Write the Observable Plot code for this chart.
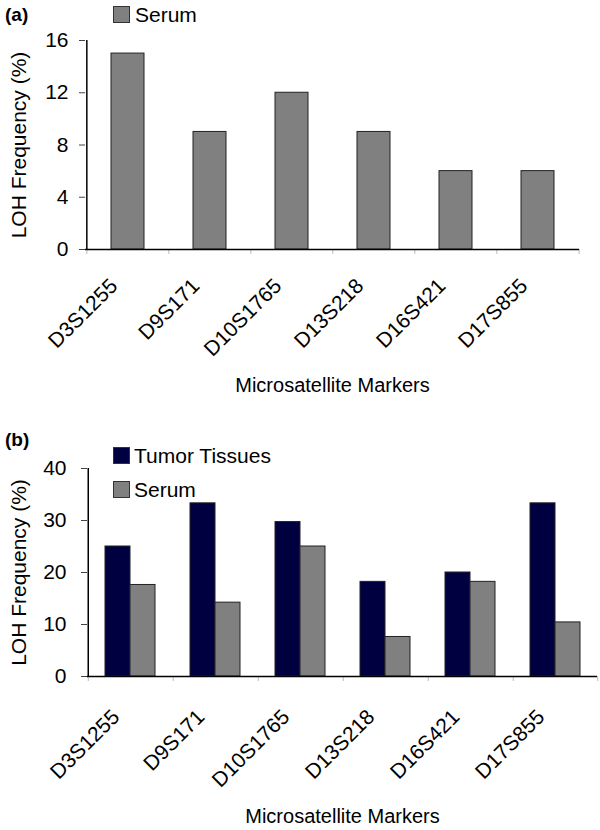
<!DOCTYPE html>
<html><head><meta charset="utf-8">
<script src="https://cdn.jsdelivr.net/npm/d3@7"></script>
<script src="https://cdn.jsdelivr.net/npm/@observablehq/plot@0.6"></script>
<style>
body{margin:0;background:#fff;font-family:"Liberation Sans",Arial,sans-serif;}
#wrap{position:relative;width:600px;height:830px;overflow:hidden;}
.panel{position:absolute;left:0;width:600px;}
.lbl{position:absolute;font-size:21px;color:#000;white-space:nowrap;line-height:1;}
.tag{position:absolute;font-size:19px;font-weight:bold;line-height:1;}
.sw{position:absolute;width:15px;height:15px;border:1px solid #333;}
</style>
</head><body>
<div id="wrap">
  <div class="panel" id="pa" style="top:0"></div>
  <div class="panel" id="pb" style="top:415px"></div>
  <div class="tag" style="left:5px;top:5px">(a)</div>
  <div class="sw" style="left:113px;top:6px;background:#808080"></div>
  <div class="lbl" style="left:135px;top:4px">Serum</div>
  <div class="tag" style="left:5px;top:430px">(b)</div>
  <div class="sw" style="left:113px;top:447px;background:#000040"></div>
  <div class="lbl" style="left:134px;top:445px">Tumor Tissues</div>
  <div class="sw" style="left:113px;top:481px;background:#808080"></div>
  <div class="lbl" style="left:134px;top:479px">Serum</div>
</div>
<script>
const markers = ["D3S1255","D9S171","D10S1765","D13S218","D16S421","D17S855"];
const serumA = [15, 9, 12, 9, 6, 6];
const tumorB = [25, 33.3, 29.7, 18.2, 20, 33.3];
const serumB = [17.6, 14.2, 25, 7.6, 18.2, 10.4];
const seriesB = ["Tumor Tissues", "Serum"];
const yTicksA = [0, 4, 8, 12, 16];
const yTicksB = [0, 10, 20, 30, 40];
const colors = {"Tumor Tissues": "#000040", "Serum": "#808080"};

const font = '"Liberation Sans", Arial, sans-serif';
const xTitle = "Microsatellite Markers";
const yTitle = "LOH Frequency (%)";

// Panel (a)
const tableA = markers.map((m, i) => ({marker: m, value: serumA[i]}));
const mlA = 85, mrA = 21;
const stepA = (600 - mlA - mrA) / markers.length;
const plotA = Plot.plot({
  width: 600, height: 415,
  marginLeft: mlA, marginRight: mrA, marginTop: 40, marginBottom: 166,
  style: {fontFamily: font, fontSize: "20px", background: "transparent", color: "#000"},
  x: {domain: markers, paddingInner: 0.6, paddingOuter: 0.3},
  y: {domain: [0, 16]},
  marks: [
    Plot.ruleX(markers, {x: d => d, dx: -stepA / 2, y1: 0, y2: 0, insetBottom: -5, stroke: "#bbb"}),
    Plot.ruleX([markers[markers.length - 1]], {x: d => d, dx: stepA / 2, y1: 0, y2: 0, insetBottom: -5, stroke: "#bbb"}),
    Plot.barY(tableA, {x: "marker", y: "value", fill: colors.Serum, stroke: "#222", strokeWidth: 1}),
    Plot.ruleX([markers[0]], {x: d => d, dx: -stepA / 2, y1: 0, y2: 16, stroke: "#000", strokeWidth: 1.5}),
    Plot.ruleY([0], {stroke: "#000", strokeWidth: 1.5}),
    Plot.axisX({tickRotate: -45, tickSize: 0, tickPadding: 18, dx: -14, dy: 15, fontSize: 21, label: null}),
    Plot.axisX({ticks: [], tickSize: 0, label: xTitle, labelAnchor: "center", labelOffset: 142, labelArrow: false, fontSize: 20}),
    Plot.axisY({ticks: yTicksA, tickSize: 6, tickPadding: 11, fontSize: 21, stroke: "#444", label: yTitle, labelAnchor: "center", labelOffset: 74, labelArrow: false})
  ]
});
document.getElementById("pa").appendChild(plotA);

// Panel (b)
const tableB = markers.flatMap((m, i) => [
  {marker: m, series: "Tumor Tissues", value: tumorB[i]},
  {marker: m, series: "Serum", value: serumB[i]}
]);
const mlB = 87, mrB = 3;
const facetW = (600 - mlB - mrB) / markers.length;
const outerB = 2 / 3;
const stepB = facetW / (2 + 2 * outerB);
const leftOff = -(stepB * outerB + stepB / 2);
const plotB = Plot.plot({
  width: 600, height: 415,
  marginLeft: mlB, marginRight: mrB, marginTop: 53, marginBottom: 154,
  style: {fontFamily: font, fontSize: "20px", background: "transparent", color: "#000"},
  fx: {domain: markers, padding: 0},
  x: {domain: seriesB, paddingInner: 0, paddingOuter: outerB, axis: null},
  y: {domain: [0, 40]},
  color: {domain: seriesB, range: seriesB.map(s => colors[s])},
  marks: [
    Plot.ruleX(markers, {fx: d => d, x: () => seriesB[0], dx: leftOff, y1: 0, y2: 0, insetBottom: -5, stroke: "#bbb"}),
    Plot.ruleX([markers[markers.length - 1]], {fx: d => d, x: () => seriesB[1], dx: -leftOff, y1: 0, y2: 0, insetBottom: -5, stroke: "#bbb"}),
    Plot.barY(tableB, {fx: "marker", x: "series", y: "value", fill: "series", stroke: "#222", strokeWidth: 1}),
    Plot.ruleX([markers[0]], {fx: d => d, x: () => seriesB[0], dx: leftOff, y1: 0, y2: 40, stroke: "#000", strokeWidth: 1.5}),
    Plot.ruleY([0], {stroke: "#000", strokeWidth: 1.5}),
    Plot.axisFx({anchor: "bottom", tickRotate: -45, tickSize: 0, tickPadding: 18, dx: -14, dy: 19, fontSize: 21, label: null}),
    Plot.axisFx({anchor: "bottom", ticks: [], tickSize: 0, label: xTitle, labelAnchor: "center", labelOffset: 146, labelArrow: false, fontSize: 20}),
    Plot.axisY({ticks: yTicksB, tickSize: 6, tickPadding: 15, fontSize: 21, stroke: "#444", label: yTitle, labelAnchor: "center", labelOffset: 76, labelArrow: false})
  ]
});
document.getElementById("pb").appendChild(plotB);
</script>
</body></html>
